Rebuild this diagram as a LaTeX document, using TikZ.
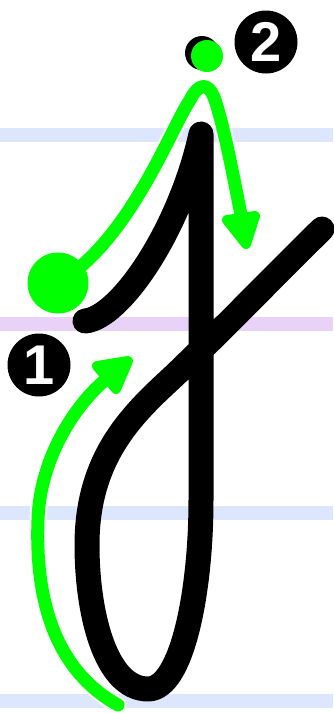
\documentclass[tikz,border=0pt]{standalone}
\usepackage{fontspec}
\setmainfont{Liberation Sans}
\definecolor{guideblue}{RGB}{220,230,252}
\definecolor{guidepurple}{RGB}{232,210,248}
\definecolor{strokegreen}{RGB}{0,255,0}
\begin{document}
\begin{tikzpicture}[x=1pt,y=-1pt,
  blk/.style={line width=25pt,line cap=round,line join=round,black},
  grn/.style={line width=13pt,line cap=round,line join=round,strokegreen},
  grnback/.style={line width=17pt,line cap=round,line join=round,white},
  ahead/.style={fill=strokegreen,draw=strokegreen,line width=10pt,line join=round},
  badge/.style={circle,fill=black,minimum size=63pt,inner sep=0pt,text=white,font=\fontsize{56}{56}\bfseries\selectfont}]
\useasboundingbox (0,0) rectangle (333,713);
\fill[white] (0,0) rectangle (333,713);
% guide lines
\fill[guideblue] (0,128) rectangle (333,142);
\fill[guidepurple] (0,317) rectangle (333,331);
\fill[guideblue] (0,506) rectangle (333,520);
\fill[guideblue] (0,694) rectangle (333,708);
% black letter stroke
\coordinate (s0) at (85,321);
\coordinate (top) at (201,134);
\coordinate (stemend) at (201,500);
\coordinate (bot) at (148,689);
\coordinate (lft) at (87,545);
\coordinate (cross) at (175,375);
\coordinate (s1) at (322,229);
\draw[blk] (s0) .. controls (120,318) and (180,230) .. (top) -- (stemend)
  .. controls (201,592) and (182,689) .. (bot)
  .. controls (105,689) and (87,612) .. (lft)
  .. controls (87,455) and (135,412) .. (cross)
  .. controls (230,322) and (280,270) .. (s1);
% green arrow 1
\coordinate (g1a) at (118,705);
\coordinate (g1m) at (38,520);
\coordinate (g1b) at (112,375);
\draw[grnback] (g1a) .. controls (55,670) and (35,600) .. (g1m)
  .. controls (40,450) and (85,393) .. (g1b);
\draw[grn] (g1a) .. controls (55,670) and (35,600) .. (g1m)
  .. controls (40,450) and (85,393) .. (g1b);
\filldraw[ahead] (97,366) -- (128,361) -- (116,389) -- cycle;
% green arrow 2
\coordinate (g2a) at (58,283);
\coordinate (g2m) at (190,100);
\coordinate (g2p) at (215,100);
\coordinate (g2b) at (243,225);
\draw[grnback] (g2a) .. controls (130,240) and (170,130) .. (g2m)
  .. controls (198,84) and (208,80) .. (g2p)
  .. controls (225,130) and (235,185) .. (g2b);
\draw[grn] (g2a) .. controls (130,240) and (170,130) .. (g2m)
  .. controls (198,84) and (208,80) .. (g2p)
  .. controls (225,130) and (235,185) .. (g2b);
\filldraw[ahead] (227,220) -- (255,216) -- (246,244) -- cycle;
% dots
\fill[strokegreen] (g2a) circle (30.5);
\fill[black] (202,53) circle (17);
\fill[strokegreen] (207,56) circle (16);
% badges
\node[badge] (b1) at (39,365) {1};
\node[badge] (b2) at (266,42) {2};
\end{tikzpicture}
\end{document}
